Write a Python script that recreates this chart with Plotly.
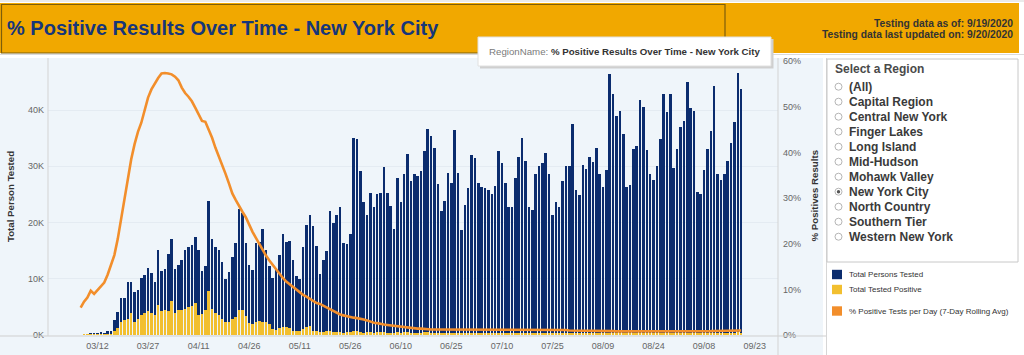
import pandas as pd
import plotly.graph_objects as go

# ---------------- data ----------------
start_date = "2020-03-07"
end_date = "2020-09-19"

# Total persons tested per day (thousands)
total_tested_k = [
    None,
    0.05, 0.1, 0.2, 0.3, 0.4, 0.5, 0.4, 0.8, 0.8, 2.7, 4.1,
    6.5, 6.5, 9.5, 9.5, 7.7, 8.0, 10.1, 10.7, 12.0, 11.0,
    9.5, 15.2, 11.4, 11.7, 14.4, 17.1, 11.7, 12.5, 13.3, 15.2,
    15.6, 16.0, 17.4, 15.2, 11.4, 12.2, 23.8, 17.1, 15.6, 15.2,
    13.0, 9.9, 11.2, 13.9, 16.4, 22.4, 21.7, 16.4, 12.5, 11.5,
    16.3, 16.6, 18.8, 15.1, 12.2, 10.1, 11.6, 14.2, 18.0, 16.6,
    16.8, 13.3, 10.5, 10.0, 15.6, 19.6, 21.3, 19.4, 15.8, 10.9,
    13.3, 15.0, 22.0,
    19.9, 21.4, 22.7, 16.3, 16.2, 18.0, 35.1, 34.9, 29.1, 23.7,
    21.4, 25.3, 22.8, 25.1, 25.2, 29.8, 25.3, 22.9, 18.9, 27.9,
    23.7, 28.6, 32.2, 27.4, 28.6, 28.3, 29.2, 32.8, 36.7, 35.4,
    33.2, 26.8, 22.1, 23.8, 28.8, 27.1, 36.4, 28.8, 18.6, 23.2,
    26.1, 32.0, 31.5, 27.0, 26.4, 26.2, 25.7, 25.1, 26.5, 32.8,
    30.5, 27.0, 22.7, 22.7, 27.9, 31.7, 35.1, 30.9, 22.7, 22.3,
    28.6, 30.1, 30.5, 32.4, 28.6, 21.3, 23.7, 22.7,
    27.4, 30.0, 30.1, 37.5, 25.8, 24.9, 30.2, 29.5, 31.6, 30.7,
    33.2, 28.6, 26.3, 29.4, 46.4, 42.9, 38.9, 39.9, 35.8, 26.4,
    26.6, 33.0, 33.6, 41.8, 40.5, 32.9, 28.6, 27.5, 30.0, 34.9,
    42.9, 39.6, 42.9, 29.7, 33.0, 37.0, 38.1, 44.9, 40.3, 39.9,
    25.4, 25.1, 29.4, 33.1, 36.2, 44.2, 28.7, 27.6, 28.6, 30.9,
    34.1, 37.8, 46.6, 43.7,
]

# Total tested positive per day (thousands)
total_positive_k = [
    None,
    0.003, 0.008, 0.015, 0.025, 0.04, 0.05, 0.05, 0.09, 0.1,
    0.8, 1.2, 2.4, 2.6, 2.8, 3.9, 2.4, 2.8, 3.6, 4.0,
    4.2, 3.9, 3.6, 5.4, 4.2, 4.4, 4.2, 6.0, 4.0, 4.4,
    4.5, 4.6, 5.0, 5.1, 5.7, 3.6, 3.7, 4.5, 7.8, 4.6,
    3.9, 3.6, 2.8, 2.25, 2.4, 2.8, 3.2, 4.5, 4.5, 3.3,
    2.1, 2.0, 2.4, 2.5, 2.25, 2.4, 2.0, 1.1, 0.95, 1.25,
    1.5, 1.4, 1.25, 0.8, 0.65, 0.77, 1.05, 1.4, 1.65, 0.8,
    0.65, 0.53, 0.47, 0.65, 0.8, 0.6, 0.53, 0.53, 0.36, 0.47,
    0.53, 0.8, 0.65, 0.47, 0.3,
    0.45, 0.5, 0.42, 0.48, 0.45, 0.5, 0.42, 0.38, 0.35, 0.45,
    0.4, 0.45, 0.5, 0.42, 0.44, 0.4, 0.42, 0.45, 0.48, 0.42,
    0.38, 0.3, 0.28, 0.34, 0.36, 0.32, 0.42, 0.34,
    0.22, 0.26, 0.30, 0.36, 0.34, 0.30, 0.28, 0.29, 0.28, 0.27,
    0.30, 0.36, 0.34, 0.31, 0.26, 0.25, 0.30, 0.35, 0.38, 0.33,
    0.25, 0.24, 0.31, 0.33, 0.32, 0.34, 0.30, 0.22, 0.25, 0.24,
    0.27, 0.29, 0.28, 0.34, 0.24, 0.23, 0.27, 0.26, 0.28, 0.27,
    0.29, 0.25, 0.23, 0.25, 0.38, 0.35, 0.31, 0.32, 0.28, 0.21,
    0.21, 0.25, 0.26, 0.31, 0.30, 0.24, 0.21, 0.20, 0.22, 0.26,
    0.31, 0.29, 0.31, 0.22, 0.24, 0.27, 0.28, 0.33, 0.30, 0.29,
    0.20, 0.21, 0.25, 0.29, 0.32, 0.39, 0.27, 0.26, 0.28, 0.30,
    0.33, 0.37, 0.45, 0.43,
]

# % positive tests per day, 7-day rolling average
pct_positive_7day = [
    6.0, 7.3, 8.2, 9.7, 9.0, 9.8, 10.6, 11.5, 13.2, 15.5,
    17.5, 21.0, 25.5, 29.5, 34.0, 38.5, 41.8, 44.5, 46.5, 49.5,
    52.0, 53.8, 55.2, 56.3, 57.3, 57.4, 57.3, 57.1, 56.6, 55.8,
    54.2, 53.0, 52.2, 51.2, 49.8, 48.5, 46.9, 46.7, 45.0, 43.2,
    41.0, 39.2, 37.2, 35.3, 33.2, 31.0, 29.6, 28.2, 27.0, 25.8,
    24.0, 22.6, 21.3, 19.9, 18.6, 17.4, 16.3, 15.3, 14.3, 13.4,
    12.5, 11.7, 11.1, 10.5, 9.9, 9.3, 8.8, 8.4, 7.9, 7.4,
    7.0, 6.8, 6.4, 6.0, 5.6, 5.2, 4.8, 4.5, 4.3, 4.1,
    3.9, 3.8, 3.7, 3.6, 3.4, 3.2, 2.9, 2.7, 2.6, 2.4,
    2.3, 2.2, 2.1, 2.0, 1.9, 1.8, 1.7, 1.6, 1.6, 1.5,
    1.4, 1.4, 1.3, 1.3, 1.2, 1.2, 1.2, 1.1, 1.1, 1.1,
    1.1, 1.1, 1.1,
    1.1, 1.1, 1.1, 1.1, 1.1, 1.1, 1.1, 1.1, 1.2, 1.2,
    1.2, 1.2, 1.2, 1.2, 1.2, 1.2, 1.2, 1.2, 1.2, 1.2,
    1.2, 1.2, 1.2, 1.2, 1.2, 1.1, 1.1, 1.1, 1.1, 1.1,
    1.1, 1.1, 1.0, 1.0, 1.0, 1.0, 1.0, 1.0, 1.0, 0.95,
    0.95, 0.9, 0.9, 0.9, 0.85, 0.85, 0.8, 0.8, 0.8, 0.8,
    0.75, 0.75, 0.75, 0.7, 0.72, 0.7, 0.68, 0.7, 0.72, 0.7,
    0.7, 0.68, 0.7, 0.72, 0.74, 0.72, 0.7, 0.7, 0.72, 0.74,
    0.76, 0.78, 0.8, 0.82, 0.84, 0.86, 0.88, 0.88, 0.9, 0.92,
    0.94, 0.96, 0.98, 1.0,
]

x_tick_dates = ["2020-03-12", "2020-03-27", "2020-04-11", "2020-04-26", "2020-05-11",
                "2020-05-26", "2020-06-10", "2020-06-25", "2020-07-10", "2020-07-25",
                "2020-08-09", "2020-08-24", "2020-09-08", "2020-09-23"]
x_tick_labels = ["03/12", "03/27", "04/11", "04/26", "05/11", "05/26", "06/10",
                 "06/25", "07/10", "07/25", "08/09", "08/24", "09/08", "09/23"]
left_tick_vals = [0, 10, 20, 30, 40]
left_tick_labels = ["0K", "10K", "20K", "30K", "40K"]
right_tick_vals = [0, 10, 20, 30, 40, 50, 60]
right_tick_labels = ["0%", "10%", "20%", "30%", "40%", "50%", "60%"]

regions = ["(All)", "Capital Region", "Central New York", "Finger Lakes", "Long Island",
           "Mid-Hudson", "Mohawk Valley", "New York City", "North Country",
           "Southern Tier", "Western New York"]
selected_region = "New York City"

legend_items = ["Total Persons Tested", "Total Tested Positive",
                "% Positive Tests per Day (7-Day Rolling Avg)"]

title_text = "% Positive Results Over Time - New York City"
as_of_text = "Testing data as of: 9/19/2020"
updated_text = "Testing data last updated on: 9/20/2020"

dates = pd.date_range(start_date, end_date, freq="D")
assert len(dates) == len(total_tested_k) == len(total_positive_k) == len(pct_positive_7day), (
    len(dates), len(total_tested_k), len(total_positive_k), len(pct_positive_7day))

# ---------------- styling ----------------
W, H = 1024, 355
NAVY = "#0B2C6E"
YELLOW = "#F2BF2F"
ORANGE = "#F28E2B"
HEADER = "#F1A800"
PANEL = "#EFF5FA"
FONT = "Liberation Sans, Arial, sans-serif"


def px(x):
    return x / W


def py(y):
    return 1 - y / H


fig = go.Figure()
fig.add_trace(go.Bar(x=dates, y=total_tested_k, marker=dict(color=NAVY, line=dict(width=0)),
                     width=0.76 * 86400000, name=legend_items[0]))
fig.add_trace(go.Bar(x=dates, y=total_positive_k, marker=dict(color=YELLOW, line=dict(width=0)),
                     width=0.76 * 86400000, name=legend_items[1]))
fig.add_trace(go.Scatter(x=dates, y=pct_positive_7day, yaxis="y2", mode="lines",
                         line=dict(color=ORANGE, width=2.6), name=legend_items[2]))

plot_l, plot_r, plot_t, plot_b = 48, 778, 59, 335

shapes = []
# chart panel background
shapes.append(dict(type="rect", xref="paper", yref="paper", x0=px(0), x1=px(823), y0=py(355), y1=py(58),
                   fillcolor=PANEL, line=dict(width=0), layer="below"))
# header
shapes.append(dict(type="rect", xref="paper", yref="paper", x0=px(0), x1=px(1019), y0=py(53), y1=py(3),
                   fillcolor=HEADER, line=dict(width=0), layer="below"))
shapes.append(dict(type="line", xref="paper", yref="paper", x0=px(0), x1=px(1024), y0=py(1), y1=py(1),
                   line=dict(color="#D5D5D5", width=1)))
shapes.append(dict(type="rect", xref="paper", yref="paper", x0=px(1.5), x1=px(725), y0=py(53), y1=py(4.5),
                   fillcolor="rgba(0,0,0,0)", line=dict(color="#7D5E0A", width=1.2)))
shapes.append(dict(type="line", xref="paper", yref="paper", x0=px(0), x1=px(1024), y0=py(54.5), y1=py(54.5),
                   line=dict(color="#DADADA", width=1)))
# axis lines
shapes.append(dict(type="line", xref="paper", yref="paper", x0=px(0), x1=px(826), y0=py(336), y1=py(336),
                   line=dict(color="#CFCFCF", width=1)))
shapes.append(dict(type="line", xref="paper", yref="paper", x0=px(plot_l), x1=px(plot_l), y0=py(336), y1=py(58),
                   line=dict(color="#D3D3D3", width=1)))
shapes.append(dict(type="line", xref="paper", yref="paper", x0=px(plot_r), x1=px(plot_r), y0=py(355), y1=py(58),
                   line=dict(color="#D3D3D3", width=1)))
shapes.append(dict(type="line", xref="paper", yref="paper", x0=px(826.5), x1=px(826.5), y0=py(355), y1=py(58),
                   line=dict(color="#D6D6D6", width=1)))
# region selector box
shapes.append(dict(type="rect", xref="paper", yref="paper", x0=px(827), x1=px(1018), y0=py(262), y1=py(59),
                   fillcolor="white", line=dict(color="#C8C8C8", width=1)))
# tooltip
shapes.append(dict(type="rect", xref="paper", yref="paper", x0=px(480), x1=px(773.5), y0=py(68.5), y1=py(39),
                   fillcolor="#CFCFCF", line=dict(width=0)))
shapes.append(dict(type="rect", xref="paper", yref="paper", x0=px(478), x1=px(771), y0=py(66), y1=py(37),
                   fillcolor="white", line=dict(color="#E0E0E0", width=1)))

annotations = []
annotations.append(dict(text="<b>%s</b>" % title_text, x=px(5), y=py(28), xref="paper", yref="paper",
                        xanchor="left", yanchor="middle", showarrow=False,
                        font=dict(family=FONT, size=20, color="#16367A")))
annotations.append(dict(text="<b>%s</b>" % as_of_text, x=px(1015), y=py(23.5), xref="paper", yref="paper",
                        xanchor="right", yanchor="middle", showarrow=False,
                        font=dict(family=FONT, size=10.3, color="#333333")))
annotations.append(dict(text="<b>%s</b>" % updated_text, x=px(1015), y=py(34.5), xref="paper", yref="paper",
                        xanchor="right", yanchor="middle", showarrow=False,
                        font=dict(family=FONT, size=10.3, color="#333333")))
annotations.append(dict(text="<span style='color:#7A7A7A'>RegionName: </span><b>%s</b>" % title_text,
                        x=px(487), y=py(51.5), xref="paper", yref="paper",
                        xanchor="left", yanchor="middle", showarrow=False,
                        font=dict(family=FONT, size=9.7, color="#333333")))
# axis titles
annotations.append(dict(text="<b>Total Person Tested</b>", x=px(10), y=py(197), xref="paper", yref="paper",
                        textangle=-90, xanchor="center", yanchor="middle", showarrow=False,
                        font=dict(family=FONT, size=9.7, color="#333333")))
annotations.append(dict(text="<b>% Positives Results</b>", x=px(813.5), y=py(196), xref="paper", yref="paper",
                        textangle=-90, xanchor="center", yanchor="middle", showarrow=False,
                        font=dict(family=FONT, size=9.7, color="#333333")))
# region selector
annotations.append(dict(text="<b>Select a Region</b>", x=px(832.5), y=py(69), xref="paper", yref="paper",
                        xanchor="left", yanchor="middle", showarrow=False,
                        font=dict(family=FONT, size=12, color="#4A4A4A")))
for i, name in enumerate(regions):
    yc = 86.7 + i * 15.0
    shapes.append(dict(type="circle", xref="paper", yref="paper", x0=px(835), x1=px(842),
                       y0=py(yc + 3.5), y1=py(yc - 3.5), fillcolor="white",
                       line=dict(color="#B5B5B5", width=1)))
    if name == selected_region:
        shapes.append(dict(type="circle", xref="paper", yref="paper", x0=px(836.8), x1=px(840.2),
                           y0=py(yc + 1.7), y1=py(yc - 1.7), fillcolor="#555555",
                           line=dict(width=0)))
    annotations.append(dict(text="<b>%s</b>" % name, x=px(846.5), y=py(yc), xref="paper", yref="paper",
                            xanchor="left", yanchor="middle", showarrow=False,
                            font=dict(family=FONT, size=12, color="#3A3A3A")))
# legend
legend_rows = [(274.5, NAVY), (289.5, YELLOW), (311, ORANGE)]
for (yc, col), label in zip(legend_rows, legend_items):
    shapes.append(dict(type="rect", xref="paper", yref="paper", x0=px(832), x1=px(842),
                       y0=py(yc + 4.7), y1=py(yc - 4.7), fillcolor=col, line=dict(width=0)))
    annotations.append(dict(text=label, x=px(846.5), y=py(yc), xref="paper", yref="paper",
                            xanchor="left", yanchor="middle", showarrow=False,
                            font=dict(family=FONT, size=8, color="#333333")))

fig.update_layout(
    width=W, height=H,
    margin=dict(l=0, r=0, t=0, b=0),
    paper_bgcolor="white",
    plot_bgcolor="rgba(0,0,0,0)",
    barmode="overlay",
    bargap=0,
    showlegend=False,
    shapes=shapes,
    annotations=annotations,
    xaxis=dict(
        domain=[px(plot_l), px(plot_r)],
        type="date",
        range=["2020-02-26 07:26", "2020-09-29 22:19"],
        tickvals=x_tick_dates, ticktext=x_tick_labels,
        tickfont=dict(family=FONT, size=9, color="#666666"),
        ticklabelstandoff=4,
        showgrid=False, zeroline=False, showline=False, ticks="",
        automargin=False, fixedrange=True,
    ),
    yaxis=dict(
        domain=[py(plot_b), py(plot_t)],
        range=[0, 49.07],
        tickvals=left_tick_vals, ticktext=left_tick_labels,
        tickfont=dict(family=FONT, size=9, color="#666666"),
        ticklabelstandoff=3,
        showgrid=True, gridcolor="#E4EBF2", gridwidth=1,
        zeroline=False, showline=False, ticks="",
        automargin=False,
    ),
    yaxis2=dict(
        overlaying="y", side="right",
        range=[0, 60.46],
        tickvals=right_tick_vals, ticktext=right_tick_labels,
        tickfont=dict(family=FONT, size=9, color="#666666"),
        ticklabelstandoff=4,
        showgrid=False, zeroline=False, showline=False, ticks="",
        automargin=False,
    ),
)

fig.write_html("out.html", config={"displayModeBar": False},
               post_script="document.body.style.margin='0';document.body.style.overflow='hidden';")
